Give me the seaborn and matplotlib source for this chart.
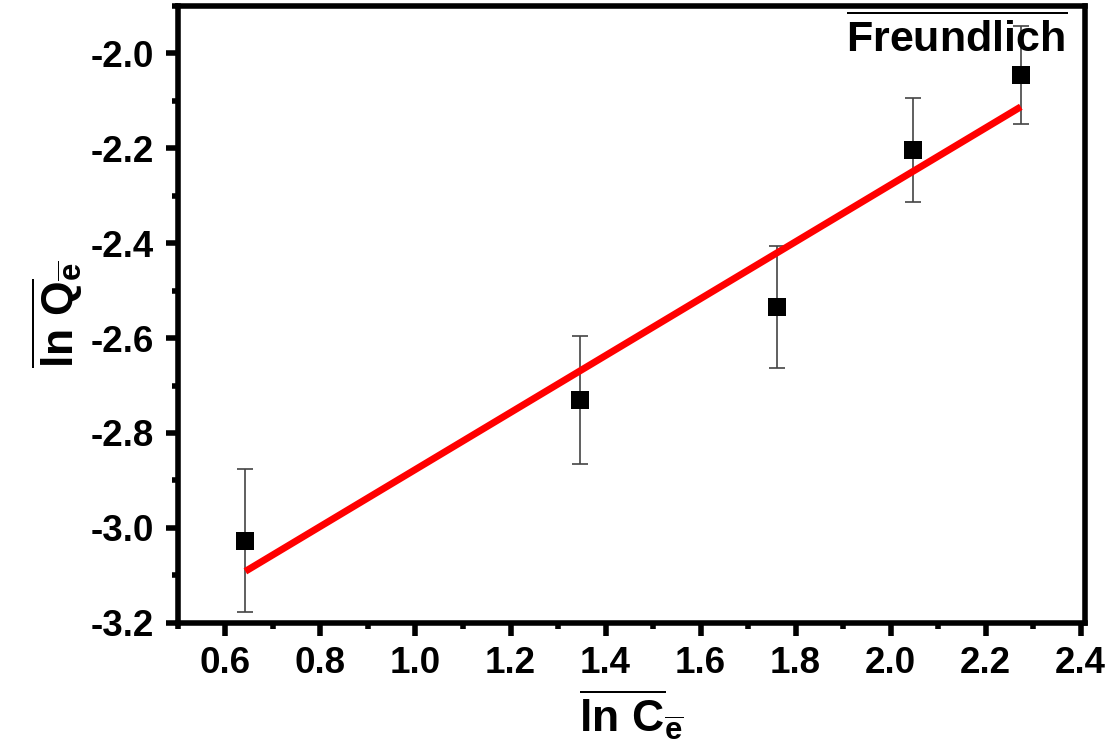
import matplotlib
matplotlib.use("Agg")
import matplotlib.pyplot as plt
import seaborn as sns
import numpy as np
import pandas as pd
from matplotlib.ticker import MultipleLocator

# Data
ln_ce = [0.642, 1.347, 1.760, 2.048, 2.274]
ln_qe = [-3.027, -2.730, -2.535, -2.204, -2.046]
err = [0.150, 0.135, 0.128, 0.110, 0.103]
xticks = [0.6, 0.8, 1.0, 1.2, 1.4, 1.6, 1.8, 2.0, 2.2, 2.4]
yticks = [-3.2, -3.0, -2.8, -2.6, -2.4, -2.2, -2.0]

sns.set_style("ticks", {"axes.edgecolor": "black", "text.color": "black",
                        "xtick.color": "black", "ytick.color": "black",
                        "axes.labelcolor": "black"})
plt.rcParams['font.family'] = ['Liberation Sans', 'DejaVu Sans']
plt.rcParams['font.weight'] = 'bold'
plt.rcParams['mathtext.fontset'] = 'custom'
plt.rcParams['mathtext.rm'] = 'Liberation Sans:bold'
plt.rcParams['mathtext.bf'] = 'Liberation Sans:bold'
plt.rcParams['mathtext.it'] = 'Liberation Sans:bold'

df = pd.DataFrame({"x": ln_ce, "y": ln_qe, "err": err})

fig = plt.figure(figsize=(11.19, 7.44), dpi=100)
ax = fig.add_axes([0.159, 0.163, 0.811, 0.829])

ax.errorbar(df["x"], df["y"], yerr=df["err"], fmt="none", ecolor="#444444",
            elinewidth=1.2, capsize=5.5, capthick=1.2, zorder=2)
sns.regplot(data=df, x="x", y="y", ci=None, scatter=False, truncate=True,
            line_kws={"color": "#ff0000", "lw": 5, "solid_capstyle": "butt", "zorder": 3}, ax=ax)
sns.scatterplot(data=df, x="x", y="y", marker="s", s=150, color="black",
                edgecolor="black", linewidth=0, zorder=4, ax=ax)

ax.set_xlim(0.5, 2.41)
ax.set_ylim(-3.2, -1.9)
ax.set_xticks(xticks)
ax.set_yticks(yticks)
ax.set_xticklabels([f"{v:.1f}" for v in xticks])
ax.set_yticklabels([f"{v:.1f}" for v in yticks])
ax.xaxis.set_minor_locator(MultipleLocator(0.1))
ax.yaxis.set_minor_locator(MultipleLocator(0.1))

for s in ax.spines.values():
    s.set_linewidth(4)
    s.set_visible(True)
    s.set_color("black")
ax.tick_params(axis="both", which="major", direction="out", length=9, width=4,
               labelsize=26.5, pad=8, colors="black")
ax.tick_params(axis="both", which="minor", direction="out", length=4, width=4, colors="black")
ax.tick_params(top=False, right=False, which="both")
for lab in ax.get_xticklabels() + ax.get_yticklabels():
    lab.set_fontweight("bold")

ax.set_xlabel(r'$\overline{\mathrm{ln\ C}}_{\overline{\mathrm{e}}}$', fontsize=32,
              labelpad=4, color="black")
ax.set_ylabel(r'$\overline{\mathrm{ln\ Q}}_{\overline{\mathrm{e}}}$', fontsize=32,
              labelpad=4, color="black")

ax.text(0.858, 0.985, r'$\overline{\mathrm{Freundlich}}$', transform=ax.transAxes,
        ha="center", va="top", fontsize=31, color="black")

fig.savefig("out.png", dpi=100)
